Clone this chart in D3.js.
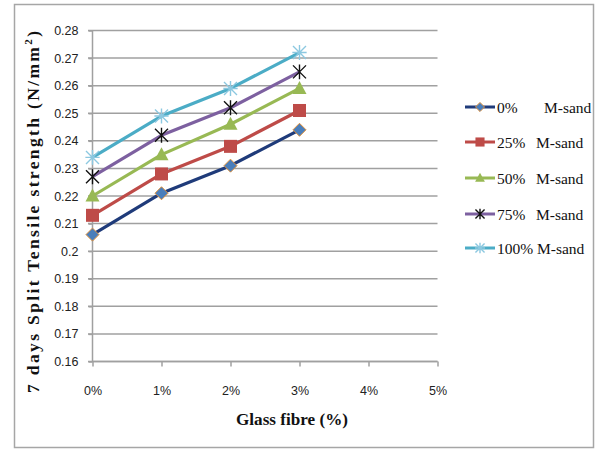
<!DOCTYPE html>
<html><head><meta charset="utf-8">
<script src="https://cdn.jsdelivr.net/npm/d3@7"></script>
<style>body{margin:0;background:#fff}svg{display:block}</style>
</head><body>
<svg id="c" width="597" height="450"></svg>
<script>
const categories = ["0%","1%","2%","3%","4%","5%"];
const xValues = [0,1,2,3];
const seriesNames = ["0%      M-sand","25%  M-sand","50%  M-sand","75%  M-sand","100%M-sand"];
const s0 = [0.206,0.221,0.231,0.244];
const s25 = [0.213,0.228,0.238,0.251];
const s50 = [0.220,0.235,0.246,0.259];
const s75 = [0.227,0.242,0.252,0.265];
const s100 = [0.234,0.249,0.259,0.272];
const yTicks = [0.16,0.17,0.18,0.19,0.2,0.21,0.22,0.23,0.24,0.25,0.26,0.27,0.28];
const yTickLabels = ["0.16","0.17","0.18","0.19","0.2","0.21","0.22","0.23","0.24","0.25","0.26","0.27","0.28"];

const series = [
 {name:seriesNames[0], vals:s0, line:"#1F3B7A", marker:"diamond", fill:"#4A7EBB", stroke:"#E0903A"},
 {name:seriesNames[1], vals:s25, line:"#BE4B48", marker:"square", fill:"#BE4B48", stroke:"#BE4B48"},
 {name:seriesNames[2], vals:s50, line:"#98B954", marker:"triangle", fill:"#98B954", stroke:"#98B954"},
 {name:seriesNames[3], vals:s75, line:"#7D60A0", marker:"asterisk", fill:"none", stroke:"#111"},
 {name:seriesNames[4], vals:s100, line:"#4BACC6", marker:"star", fill:"none", stroke:"#8CC8E0"}
];

const svg = d3.select("#c");
svg.append("rect").attr("x",14.5).attr("y",4.5).attr("width",579).attr("height",443)
  .attr("fill","#fff").attr("stroke","#A6A6A6").attr("stroke-width",1.5);

const x = d3.scaleLinear().domain([0,5]).range([92.5,437.5]);
const y = d3.scaleLinear().domain([0.16,0.28]).range([361.5,30.5]);

svg.append("g").selectAll("line").data(yTicks).join("line")
  .attr("x1",88).attr("x2",437.5).attr("y1",d=>y(d)).attr("y2",d=>y(d))
  .attr("stroke","#A0A0A0").attr("stroke-width",1.5);

const yAxis = d3.axisLeft(y).tickValues(yTicks).tickFormat((d,i)=>yTickLabels[i]).tickSize(4).tickPadding(10);
const gy = svg.append("g").attr("transform","translate(92.5,0)").call(yAxis);
gy.select(".domain").attr("stroke","#A0A0A0").attr("stroke-width",1.5).attr("d","M0,30.5V361.5");
gy.selectAll(".tick line").attr("stroke","#A0A0A0").attr("stroke-width",1.5);
gy.selectAll("text").attr("font-family","Liberation Sans, Arial, sans-serif").attr("font-size",12.5).attr("fill","#222");

const xAxis = d3.axisBottom(x).tickValues([0,1,2,3,4,5]).tickFormat((d,i)=>categories[i]).tickSize(5).tickPadding(20);
const gx = svg.append("g").attr("transform","translate(0,361.5)").call(xAxis);
gx.select(".domain").attr("stroke","#A0A0A0").attr("stroke-width",1.5).attr("d","M92.5,0H437.5");
gx.selectAll(".tick line").attr("stroke","#A0A0A0").attr("stroke-width",1.5);
gx.selectAll("text").attr("font-family","Liberation Sans, Arial, sans-serif").attr("font-size",12.5).attr("fill","#222");

function drawMarker(g, type, cx, cy, fill, stroke, scale){
  const s = scale||1;
  if(type==="diamond"){
    g.append("path").attr("d",`M${cx},${cy-6.5*s}L${cx+6.5*s},${cy}L${cx},${cy+6.5*s}L${cx-6.5*s},${cy}Z`)
      .attr("fill",fill).attr("stroke",stroke).attr("stroke-width",1);
  } else if(type==="square"){
    g.append("rect").attr("x",cx-6.5*s).attr("y",cy-6.5*s).attr("width",13*s).attr("height",13*s).attr("fill",fill);
  } else if(type==="triangle"){
    g.append("path").attr("d",`M${cx},${cy-7.5*s}L${cx+7*s},${cy+5.5*s}L${cx-7*s},${cy+5.5*s}Z`).attr("fill",fill);
  } else if(type==="asterisk"){
    const r=6.5*s;
    const p = `M${cx-r},${cy-r}L${cx+r},${cy+r}M${cx-r},${cy+r}L${cx+r},${cy-r}M${cx},${cy-r*1.15}L${cx},${cy+r*1.15}`;
    g.append("path").attr("d",p).attr("stroke",stroke).attr("stroke-width",1.4).attr("fill","none");
  } else if(type==="star"){
    const r=6.5*s;
    const p = `M${cx-r},${cy-r}L${cx+r},${cy+r}M${cx-r},${cy+r}L${cx+r},${cy-r}M${cx},${cy-r*1.15}L${cx},${cy+r*1.15}M${cx-r*1.1},${cy}L${cx+r*1.1},${cy}`;
    g.append("path").attr("d",p).attr("stroke",stroke).attr("stroke-width",1.4).attr("fill","none");
  }
}

const line = d3.line().x((d,i)=>x(xValues[i])).y(d=>y(d));
series.forEach(s=>{
  svg.append("path").attr("d",line(s.vals)).attr("fill","none").attr("stroke",s.line).attr("stroke-width",3.2).attr("stroke-linejoin","round");
});
series.forEach(s=>{
  const g = svg.append("g");
  s.vals.forEach((v,i)=>drawMarker(g,s.marker,x(xValues[i]),y(v),s.fill,s.stroke));
});

const legY = [107,142,178,214,248];
series.forEach((s,i)=>{
  const g = svg.append("g");
  g.append("line").attr("x1",465).attr("x2",495).attr("y1",legY[i]).attr("y2",legY[i]).attr("stroke",s.line).attr("stroke-width",3);
  drawMarker(g,s.marker,480,legY[i],s.fill,s.stroke,0.7);
  const parts = s.name.split("M-sand");
  g.append("text").attr("x",497).attr("y",legY[i]+5.5).attr("font-family","Liberation Serif, Times New Roman, serif").attr("font-size",15.5).attr("fill","#111").text(parts[0].trim());
  g.append("text").attr("x",i===0?544:(i===4?537:536)).attr("y",legY[i]+5.5).attr("font-family","Liberation Serif, Times New Roman, serif").attr("font-size",15.5).attr("fill","#111").text("M-sand");
});

svg.append("text").attr("x",292).attr("y",425).attr("text-anchor","middle")
  .attr("font-family","Liberation Serif, Times New Roman, serif").attr("font-weight","bold").attr("font-size",17.5).attr("fill","#111")
  .attr("textLength",112).attr("lengthAdjust","spacingAndGlyphs")
  .text("Glass fibre (%)");
const yt = svg.append("text").attr("transform","translate(39,212) rotate(-90)").attr("text-anchor","middle")
  .attr("font-family","Liberation Serif, Times New Roman, serif").attr("font-weight","bold").attr("font-size",17.5).attr("fill","#111")
  .attr("textLength",362).attr("lengthAdjust","spacing");
yt.append("tspan").text("7 days Split Tensile strength (N/mm");
yt.append("tspan").attr("font-size",11).attr("dy",-7).text("2");
yt.append("tspan").attr("dy",7).text(")");
</script>
</body></html>
